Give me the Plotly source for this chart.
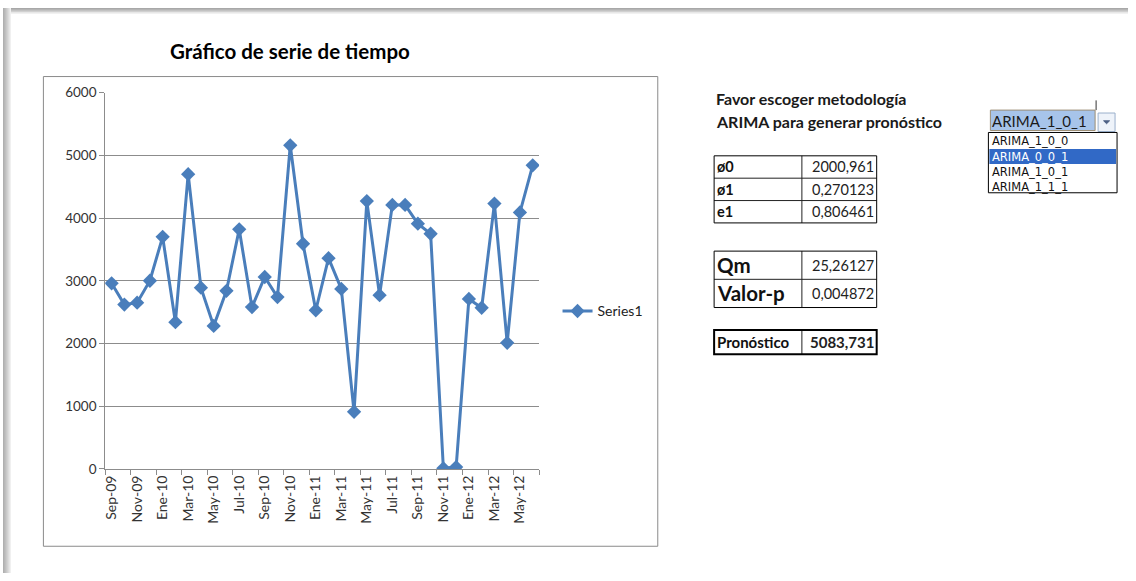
import plotly.graph_objects as go

# Serie mensual
meses = ["Sep-09", "Oct-09", "Nov-09", "Dic-09", "Ene-10", "Feb-10", "Mar-10", "Abr-10",
         "May-10", "Jun-10", "Jul-10", "Ago-10", "Sep-10", "Oct-10", "Nov-10", "Dic-10",
         "Ene-11", "Feb-11", "Mar-11", "Abr-11", "May-11", "Jun-11", "Jul-11", "Ago-11",
         "Sep-11", "Oct-11", "Nov-11", "Dic-11", "Ene-12", "Feb-12", "Mar-12", "Abr-12",
         "May-12", "Jun-12"]
valores = [2960, 2620, 2650, 3000, 3700, 2340, 4700, 2890,
           2280, 2840, 3820, 2580, 3060, 2740, 5160, 3590,
           2530, 3360, 2870, 910, 4270, 2770, 4210, 4210,
           3910, 3750, 10, 30, 2710, 2570, 4230, 2010,
           4090, 4840]
y_ticks = [0, 1000, 2000, 3000, 4000, 5000, 6000]

# Parametros del modelo
param_nombres = ["ø0", "ø1", "e1"]
param_valores = ["2000,961", "0,270123", "0,806461"]
prueba_nombres = ["Qm", "Valor-p"]
prueba_valores = ["25,26127", "0,004872"]
pronostico = "5083,731"
modelo_sel = "ARIMA_1_0_1"
modelos = ["ARIMA_1_0_0", "ARIMA_0_0_1", "ARIMA_1_0_1", "ARIMA_1_1_1"]
resaltado = 1

W, H = 1136, 581
BLUE = "#4A7EBB"
GRID = "#8C8C8C"
FONT = "Lato"


def px(x):
    return x / W


def py(y):
    return 1 - y / H


def texto(t, x, y, size, color="#111111", xanchor="left", family=FONT):
    return dict(text=t, x=px(x), y=py(y), xanchor=xanchor, yanchor="middle",
                xref="paper", yref="paper", showarrow=False, borderpad=0,
                font=dict(family=family, size=size, color=color))


idx = list(range(len(valores)))

fig = go.Figure()
fig.add_trace(go.Scatter(
    x=idx, y=valores, mode="lines+markers", name="Series1",
    line=dict(color=BLUE, width=3),
    marker=dict(symbol="diamond", size=11, color=BLUE),
))

shapes = []
ann = []

# sombra del marco exterior
top_cols = ["#a8a8a8", "#b4b4b4", "#c2c2c2", "#d0d0d0", "#dedede", "#ececec"]
for i, c in enumerate(top_cols):
    shapes.append(dict(type="rect", xref="paper", yref="paper",
                       x0=px(8), x1=px(1128), y0=py(i + 1), y1=py(i),
                       fillcolor=c, line=dict(width=0), layer="below"))
left_cols = ["#b0b0b0", "#b8b8b8", "#c0c0c0", "#c9c9c9", "#d2d2d2", "#dcdcdc", "#e6e6e6", "#f0f0f0"]
for i, c in enumerate(left_cols):
    shapes.append(dict(type="rect", xref="paper", yref="paper",
                       x0=px(i), x1=px(i + 1), y0=py(H), y1=py(0),
                       fillcolor=c, line=dict(width=0), layer="below"))

# marco del grafico
shapes.append(dict(type="rect", xref="paper", yref="paper",
                   x0=px(40.5), x1=px(656.5), y0=py(553.5), y1=py(70.5),
                   line=dict(color="#8a8a8a", width=1), fillcolor="rgba(0,0,0,0)"))

ann.append(texto("<b>Gráfico de serie de tiempo</b>", 288, 44, 20.5, "#000000", "center"))

# texto de instrucciones
ann.append(texto("<b>Favor escoger metodología</b>", 714, 93, 16, "#1a1a1a"))
ann.append(texto("<b>ARIMA para generar pronóstico</b>", 714, 117, 16, "#1a1a1a"))


def tabla(x0, xm, x1, filas, nombres, valores_t, fn, fv, borde=1, bold_val=False):
    for i in range(len(filas) - 1):
        if i > 0:
            shapes.append(dict(type="line", xref="paper", yref="paper",
                               x0=px(x0), x1=px(x1), y0=py(filas[i]), y1=py(filas[i]),
                               line=dict(color="#222222", width=1)))
        yc = (filas[i] + filas[i + 1]) / 2
        ann.append(texto("<b>%s</b>" % nombres[i], x0 + 2, yc, fn, "#111111"))
        txt = "<b>%s</b>" % valores_t[i] if bold_val else valores_t[i]
        ann.append(texto(txt, x1 - 2, yc, fv, "#222222", "right"))
    shapes.append(dict(type="line", xref="paper", yref="paper",
                       x0=px(xm), x1=px(xm), y0=py(filas[-1]), y1=py(filas[0]),
                       line=dict(color="#222222", width=1)))
    shapes.append(dict(type="rect", xref="paper", yref="paper",
                       x0=px(x0), x1=px(x1), y0=py(filas[-1]), y1=py(filas[0]),
                       line=dict(color="#000000", width=borde), fillcolor="rgba(0,0,0,0)"))


tabla(713, 801, 876, [152, 175, 198, 221], param_nombres, param_valores, 14.5, 14.5)
tabla(713, 801, 876, [250, 279, 308], prueba_nombres, prueba_valores, 20.5, 14.5)
tabla(713, 801, 876, [331, 356], ["Pronóstico"], [pronostico], 15, 15, borde=2, bold_val=True)

# lista desplegable
shapes.append(dict(type="rect", xref="paper", yref="paper",
                   x0=px(990), x1=px(1095), y0=py(126), y1=py(105),
                   fillcolor="#A7C4EA", line=dict(color="#9C8E74", width=1)))
ann.append(texto(modelo_sel, 991, 116, 15, "#1a1a1a"))
shapes.append(dict(type="rect", xref="paper", yref="paper",
                   x0=px(1098), x1=px(1115), y0=py(127), y1=py(108),
                   fillcolor="#EEF3FA", line=dict(color="#9AB0CC", width=1)))
shapes.append(dict(type="path", xref="paper", yref="paper",
                   path="M %f %f L %f %f L %f %f Z" % (px(1103.5), py(116), px(1109.5), py(116),
                                                       px(1106.5), py(119)),
                   fillcolor="#4D6185", line=dict(color="#4D6185", width=1)))
shapes.append(dict(type="line", xref="paper", yref="paper",
                   x0=px(1096), x1=px(1096), y0=py(105), y1=py(95),
                   line=dict(color="#333333", width=1)))
shapes.append(dict(type="rect", xref="paper", yref="paper",
                   x0=px(988), x1=px(1117), y0=py(190), y1=py(128),
                   fillcolor="#FFFFFF", line=dict(color="#000000", width=1)))
fila_h = 15.5
for i, m in enumerate(modelos):
    yt = 129.5 + i * fila_h
    col = "#111111"
    if i == resaltado:
        shapes.append(dict(type="rect", xref="paper", yref="paper",
                           x0=px(989), x1=px(1116), y0=py(yt + fila_h), y1=py(yt),
                           fillcolor="#3169C6", line=dict(width=0)))
        col = "#FFFFFF"
    ann.append(texto(m, 991, yt + fila_h / 2, 11.5, col, family="DejaVu Sans"))

fig.update_layout(
    width=W, height=H, autosize=False,
    margin=dict(l=0, r=0, t=0, b=0),
    paper_bgcolor="#FFFFFF", plot_bgcolor="#FFFFFF",
    shapes=shapes, annotations=ann,
    showlegend=True,
    legend=dict(x=px(556), y=py(312), xanchor="left", yanchor="middle",
                xref="paper", yref="paper", bgcolor="rgba(0,0,0,0)",
                font=dict(family=FONT, size=14, color="#222222")),
    xaxis=dict(
        domain=[px(102.5), px(537.5)],
        range=[-0.5, len(valores) - 0.5],
        tickmode="array", tickvals=idx[::2], ticktext=meses[::2],
        tickangle=-90, ticks="", showgrid=False, zeroline=False,
        showline=True, linecolor=GRID, linewidth=1,
        tickfont=dict(family=FONT, size=14, color="#333333"),
        minor=dict(tickmode="linear", tick0=-0.5, dtick=2, ticks="outside",
                   ticklen=5, tickcolor=GRID, showgrid=False),
        fixedrange=True,
    ),
    yaxis=dict(
        domain=[py(474), py(87)],
        range=[0, 6000], tickmode="array", tickvals=y_ticks,
        showgrid=True, gridcolor=GRID, gridwidth=1, zeroline=False,
        showline=True, linecolor=GRID, linewidth=1,
        ticks="outside", ticklen=5, tickcolor=GRID,
        tickfont=dict(family=FONT, size=13.5, color="#333333"),
        fixedrange=True,
    ),
)

fig.write_html("out.html", config={"displayModeBar": False})
